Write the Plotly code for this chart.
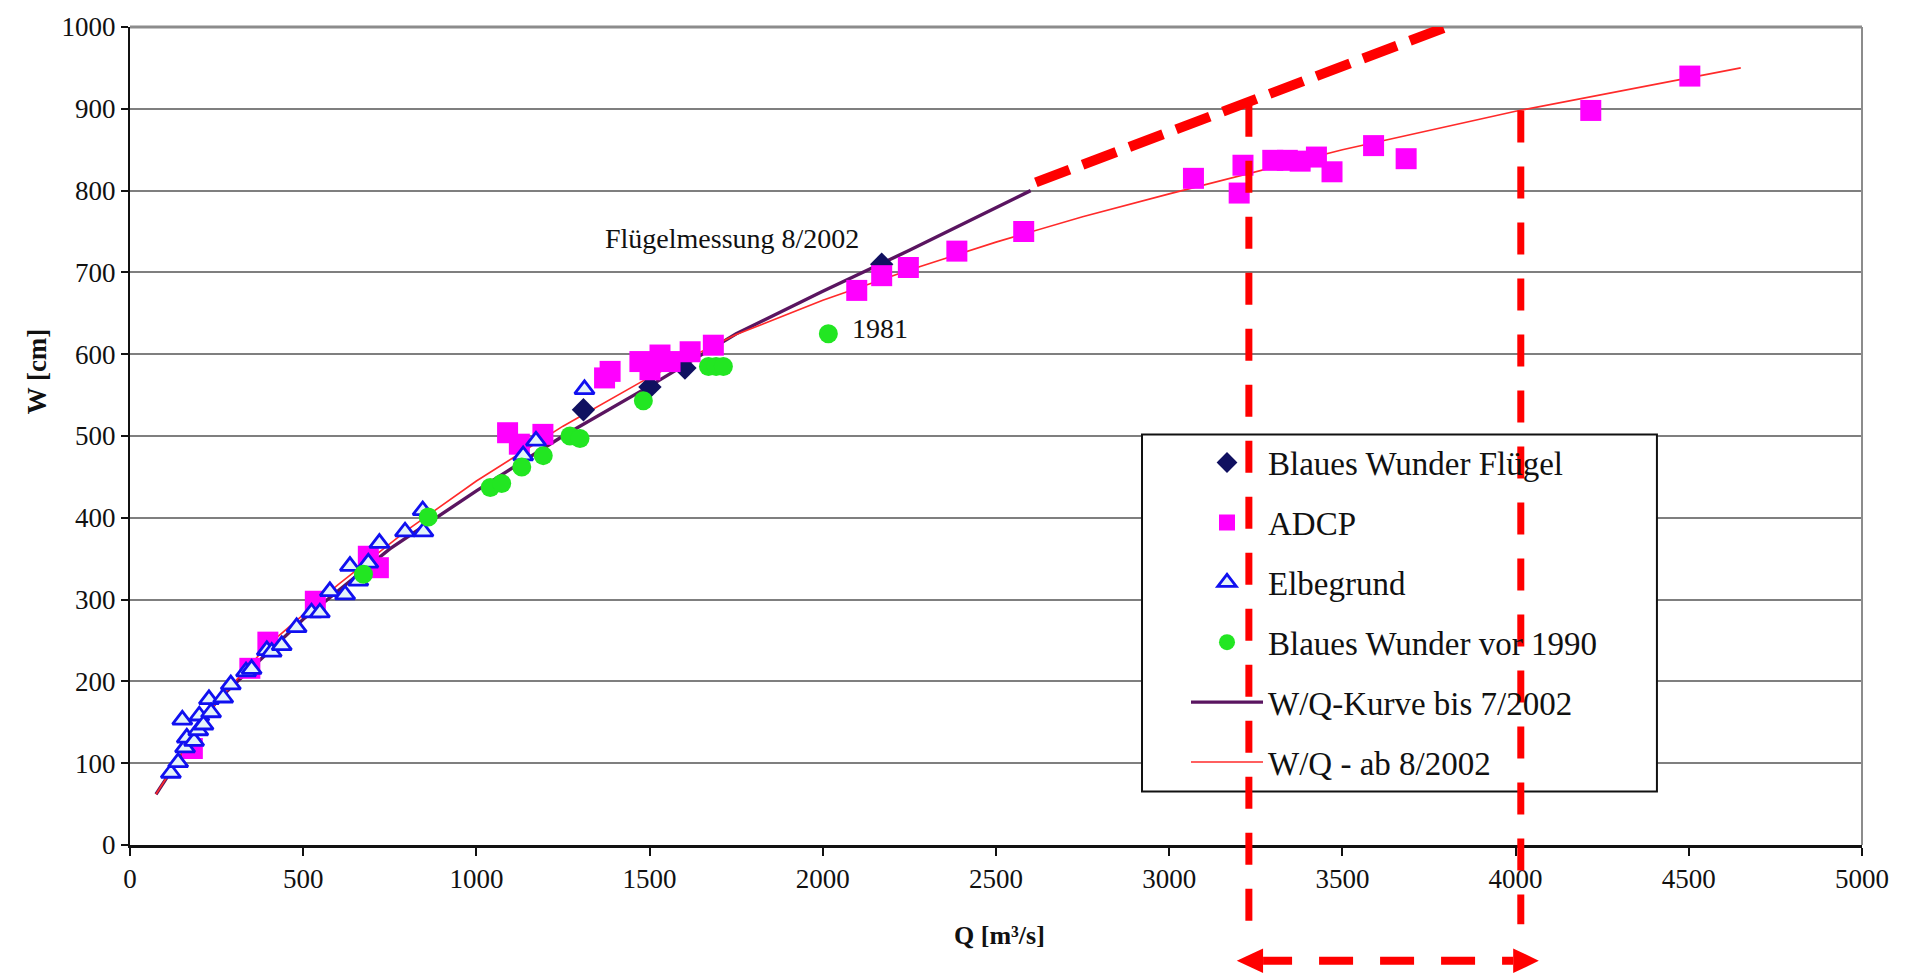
import plotly.graph_objects as go

# ---- measured discharge Q [m³/s] and gauge height W [cm] ----
fluegel_q = [1309, 1501, 1602, 2170]
fluegel_w = [532, 560, 583, 710]

adcp_q = [180, 346, 398, 535, 688, 717,
          1090, 1124, 1192, 1370, 1386, 1472, 1501, 1530, 1559, 1617, 1684,
          2098, 2170, 2247, 2387, 2580,
          3070, 3202, 3213, 3299, 3341, 3378, 3425, 3470, 3590, 3684,
          4217, 4503]
adcp_w = [118, 216, 248, 298, 353, 339,
          504, 490, 502, 571, 579, 591, 581, 599, 591, 603, 611,
          678, 696, 706, 726, 750,
          815, 797, 831, 837, 837, 836, 841, 823, 855, 839,
          898, 940]

elbe_q = [118, 139, 151, 159, 164, 185, 197, 200, 212, 228, 234, 269, 291,
          335, 351, 395, 409, 438, 481, 524, 548, 577, 621, 635, 659, 688,
          720, 794, 847, 845, 1135, 1172, 1312]
elbe_w = [88, 101, 153, 119, 131, 127, 140, 158, 147, 178, 162, 180, 196,
          212, 215, 238, 236, 244, 266, 284, 284, 310, 306, 341, 323, 345,
          369, 383, 383, 409, 476, 494, 557]

vor1990_q = [674, 861, 1040, 1073, 1131, 1193, 1270, 1299, 1482, 1670, 1692, 1713, 2016]
vor1990_w = [331, 401, 437, 442, 462, 476, 500, 497, 543, 585, 585, 585, 625]

# rating curves
kurve_alt_q = [75, 250, 500, 750, 1000, 1250, 1500, 1750, 2000, 2250, 2600]
kurve_alt_w = [62, 176, 276, 362, 433, 500, 561, 625, 677, 727, 800]

kurve_neu_q = [75, 150, 250, 400, 600, 800, 1000, 1250, 1500, 1750, 2000,
               2250, 2500, 2750, 3000, 3500, 4000, 4650]
kurve_neu_w = [62, 112, 175, 245, 318, 385, 445, 512, 572, 624, 666,
               703, 737, 768, 796, 850, 897, 950]

# extrapolation of the old curve and the discharge band at W = 900 cm
extrap_q = [2615, 3800]
extrap_w = [810, 1000]
band_q = [3230, 4015]
band_top_w = [905, 898]

x_ticks = list(range(0, 5001, 500))
y_ticks = list(range(0, 1001, 100))

X_RANGE = [0, 5000]
Y_RANGE = [0, 1000]
FONT = "Liberation Serif"


def qx(q):
    return (q - X_RANGE[0]) / (X_RANGE[1] - X_RANGE[0])


def wy(w):
    return (w - Y_RANGE[0]) / (Y_RANGE[1] - Y_RANGE[0])


fig = go.Figure()

fig.add_trace(go.Scatter(
    x=kurve_alt_q, y=kurve_alt_w, mode="lines", name="W/Q-Kurve bis 7/2002",
    line=dict(color="#5a1560", width=3.4), legendgroup="g5", legendrank=5))
fig.add_trace(go.Scatter(
    x=kurve_neu_q, y=kurve_neu_w, mode="lines", name="W/Q - ab 8/2002",
    line=dict(color="#ff2a2a", width=1.6), legendgroup="g6", legendrank=6))
fig.add_trace(go.Scatter(
    x=fluegel_q, y=fluegel_w, mode="markers", name="Blaues Wunder Flügel",
    marker=dict(symbol="diamond", size=18, color="#101060"),
    legendgroup="g1", legendrank=1))
fig.add_trace(go.Scatter(
    x=adcp_q, y=adcp_w, mode="markers", name="ADCP",
    marker=dict(symbol="square", size=21, color="#ff00ff"),
    legendgroup="g2", legendrank=2))
fig.add_trace(go.Scatter(
    x=elbe_q, y=elbe_w, mode="markers", name="Elbegrund",
    marker=dict(symbol="triangle-up", size=17, color="#e4f3fa",
                line=dict(color="#1010f0", width=2.8)),
    legendgroup="g3", legendrank=3))
fig.add_trace(go.Scatter(
    x=vor1990_q, y=vor1990_w, mode="markers", name="Blaues Wunder vor 1990",
    marker=dict(symbol="circle", size=19, color="#22e622"),
    legendgroup="g4", legendrank=4))

red = "#ff0000"
shapes = [
    # plot frame (top and right)
    dict(type="line", xref="paper", yref="paper", x0=0, x1=1, y0=1, y1=1,
         line=dict(color="#8c8c8c", width=3), layer="above"),
    dict(type="line", xref="paper", yref="paper", x0=1, x1=1, y0=0, y1=1,
         line=dict(color="#8c8c8c", width=2), layer="above"),
    # legend box
    dict(type="rect", xref="paper", yref="paper", x0=0.5843, x1=0.8816,
         y0=0.0653, y1=0.5018, fillcolor="white",
         line=dict(color="#111111", width=2), layer="above"),
    # extrapolated old curve
    dict(type="line", xref="x", yref="y", x0=extrap_q[0], y0=extrap_w[0],
         x1=extrap_q[1], y1=extrap_w[1],
         line=dict(color=red, width=10, dash="36px,14px"), layer="above"),
]
# vertical markers of the discharge band
for q, w in zip(band_q, band_top_w):
    shapes.append(dict(type="line", xref="paper", yref="paper",
                       x0=qx(q), x1=qx(q), y0=wy(w), y1=-0.097,
                       line=dict(color=red, width=7, dash="32px,24px"),
                       layer="above"))

# double arrow below the axis
arrow_y = -0.1415
head_h = 0.0151
tip_l, base_l = band_q[0] - 35, band_q[0] + 41
tip_r, base_r = band_q[1] + 52, band_q[1] - 22
shapes.append(dict(type="line", xref="paper", yref="paper",
                   x0=qx(base_l), x1=qx(base_r), y0=arrow_y, y1=arrow_y,
                   line=dict(color=red, width=8,
                             dash="29px,27px,34px,27px,34px,27px,34px,27px,40px"),
                   layer="above"))
for tip, base in ((tip_l, base_l), (tip_r, base_r)):
    shapes.append(dict(
        type="path", xref="paper", yref="paper",
        path=(f"M {qx(tip)},{arrow_y} L {qx(base)},{arrow_y + head_h} "
              f"L {qx(base)},{arrow_y - head_h} Z"),
        fillcolor=red, line=dict(color=red, width=0), layer="above"))

annotations = [
    dict(x=1365, y=741, xref="x", yref="y", text="Flügelmessung 8/2002",
         showarrow=False, xanchor="left", yanchor="middle",
         font=dict(family=FONT, size=28, color="#111111")),
    dict(x=2079, y=631, xref="x", yref="y", text="1981",
         showarrow=False, xanchor="left", yanchor="middle",
         font=dict(family=FONT, size=28, color="#111111")),
    dict(x=-0.0537, y=0.579, xref="paper", yref="paper", text="<b>W [cm]</b>",
         textangle=-90, showarrow=False, xanchor="center", yanchor="middle",
         font=dict(family=FONT, size=27, color="#111111")),
    dict(x=0.5023, y=-0.111, xref="paper", yref="paper", text="<b>Q [m³/s]</b>",
         showarrow=False, xanchor="center", yanchor="middle",
         font=dict(family=FONT, size=26, color="#111111")),
]

fig.update_layout(
    width=1915, height=977,
    margin=dict(l=130, r=53, t=18, b=132),
    paper_bgcolor="white", plot_bgcolor="white",
    font=dict(family=FONT, size=26, color="#111111"),
    showlegend=True,
    legend=dict(x=0.5843, y=0.5018, xanchor="left", yanchor="top",
                bgcolor="rgba(0,0,0,0)", borderwidth=0,
                font=dict(family=FONT, size=33, color="#111111"),
                tracegroupgap=14, itemwidth=72, indentation=44,
                traceorder="grouped"),
    shapes=shapes,
    annotations=annotations,
    xaxis=dict(range=X_RANGE, tickvals=x_ticks, ticktext=[str(v) for v in x_ticks],
               showgrid=False, zeroline=False, showline=True,
               linecolor="#111111", linewidth=3, ticks="outside", ticklen=8,
               tickwidth=1.5, tickcolor="#111111",
               tickfont=dict(family=FONT, size=27, color="#111111")),
    yaxis=dict(range=Y_RANGE, tickvals=y_ticks, ticktext=[str(v) for v in y_ticks],
               showgrid=True, gridcolor="#7f7f7f", gridwidth=1.6,
               zeroline=False, showline=True,
               linecolor="#111111", linewidth=2, ticks="outside", ticklen=7,
               tickwidth=1.5, tickcolor="#111111",
               tickfont=dict(family=FONT, size=27, color="#111111")),
)

fig.write_html("out.html")
